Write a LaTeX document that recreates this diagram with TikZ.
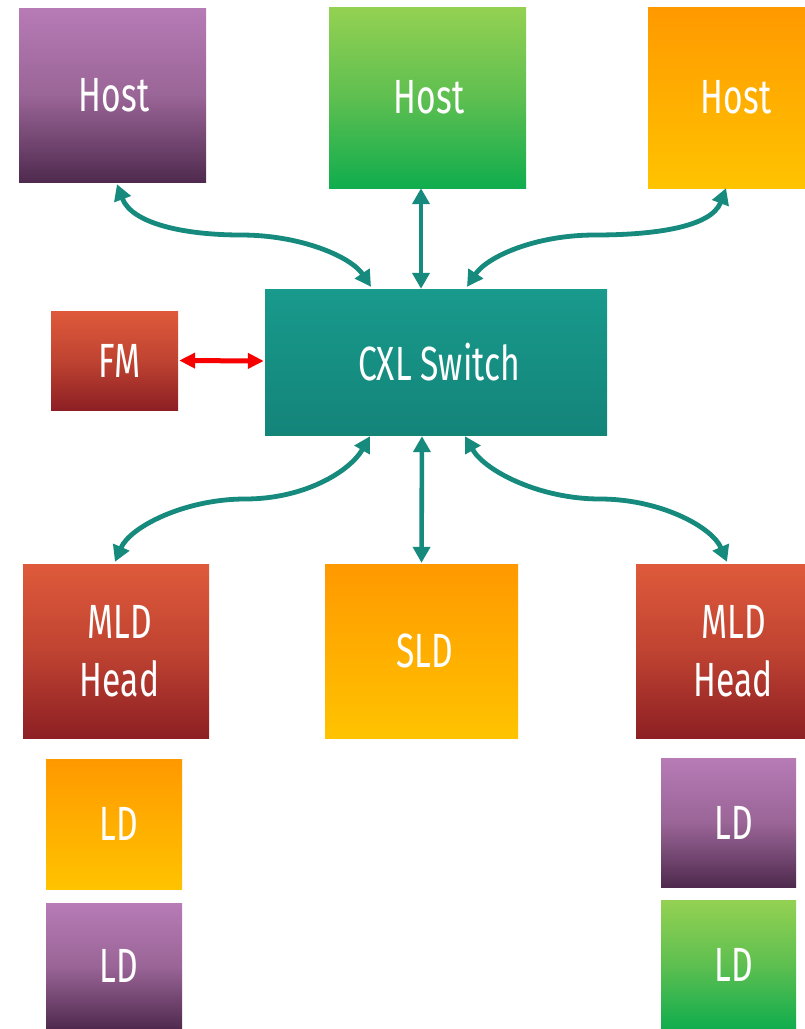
\documentclass[tikz,border=0pt]{standalone}
\usepackage{fontspec}
\setmainfont{Fira Sans}[FakeStretch=0.70]
\usetikzlibrary{arrows.meta,calc}

\definecolor{purpleTop}{HTML}{B77BB6}
\definecolor{purpleMid}{HTML}{9A6597}
\definecolor{purpleBot}{HTML}{4F2A4E}
\definecolor{greenTop}{HTML}{94D152}
\definecolor{greenMid}{HTML}{5EBF50}
\definecolor{greenBot}{HTML}{10AD4E}
\definecolor{orangeTop}{HTML}{FF9900}
\definecolor{orangeMid}{HTML}{FFAE00}
\definecolor{orangeBot}{HTML}{FFC300}
\definecolor{redTop}{HTML}{DF5A3B}
\definecolor{redMid}{HTML}{BF4331}
\definecolor{redBot}{HTML}{8D1F24}
\definecolor{tealTop}{HTML}{189A8C}
\definecolor{tealBot}{HTML}{148479}
\definecolor{linkteal}{HTML}{158A7D}
\definecolor{fmred}{HTML}{F80000}

% push a label to the right by half of the given space
\newcommand{\lblpush}[2]{\hspace*{#1pt}#2}

\begin{document}
\begin{tikzpicture}[x=1pt,y=-1pt,
  block/.style={rectangle, inner sep=0pt, text=white, align=center,
    font=\fontsize{48}{58}\selectfont},
  purpleblk/.style={block, top color=purpleTop, bottom color=purpleBot, middle color=purpleMid},
  greenblk/.style={block, top color=greenTop, bottom color=greenBot, middle color=greenMid},
  orangeblk/.style={block, top color=orangeTop, bottom color=orangeBot, middle color=orangeMid},
  redblk/.style={block, top color=redTop, bottom color=redBot, middle color=redMid},
  tealblk/.style={block, top color=tealTop, bottom color=tealBot},
  link/.style={draw=linkteal, line width=4.8pt,
    {Triangle[length=16pt,width=17pt]}-{Triangle[length=16pt,width=17pt]}},
  vlink/.style={link, line width=4.6pt},
  fmlink/.style={draw=fmred, line width=5pt,
    {Triangle[length=16pt,width=15pt]}-{Triangle[length=16pt,width=15pt]}}
]
\useasboundingbox[fill=white] (0,0) rectangle (805,1029);

% hosts
\node[purpleblk, minimum width=187, minimum height=174] (h1) at (112.5,95) {\lblpush{3}{Host}};
\node[greenblk,  minimum width=197, minimum height=181] (h2) at (427.5,97.5) {\lblpush{3}{Host}};
\node[orangeblk, minimum width=176, minimum height=181] (h3) at (736,97.5) {Host};

% fabric manager and switch
\node[redblk,  minimum width=127, minimum height=99]  (fm) at (114.5,360.5) {\lblpush{10}{FM}};
\node[tealblk, minimum width=342, minimum height=146] (sw) at (436,362) {\lblpush{6}{CXL Switch}};

% devices
\node[redblk,    minimum width=186, minimum height=174] (mld1) at (116,651) {\lblpush{7}{MLD}\\\lblpush{7}{Head}};
\node[orangeblk, minimum width=193, minimum height=174] (sld)  at (421.5,651) {\lblpush{7}{SLD}};
\node[redblk,    minimum width=194, minimum height=174] (mld2) at (733,651) {\lblpush{2}{MLD}\\Head};

% logical devices
\node[orangeblk, minimum width=136, minimum height=130] (ld1) at (114,824) {\lblpush{10}{LD}};
\node[purpleblk, minimum width=136, minimum height=126] (ld2) at (114,966) {\lblpush{10}{LD}};
\node[purpleblk, minimum width=135, minimum height=129] (ld3) at (728.5,822.5) {\lblpush{11}{LD}};
\node[greenblk,  minimum width=135, minimum height=129] (ld4) at (728.5,964.5) {\lblpush{11}{LD}};

% bends of the curved links
\coordinate (b1) at (241,235);
\coordinate (b2) at (595,235);
\coordinate (b3) at (245,499);
\coordinate (b4) at (600,499);

% host links
\draw[link] ([xshift=4.5pt,yshift=-2pt]h1.south)
  .. controls +(15,40) and +(-55,0) .. (b1)
  .. controls +(60,0) and +(-20,-30) .. ([xshift=-65pt,yshift=2pt]sw.north);
\draw[vlink] ([xshift=-6.5pt]h2.south) -- ([xshift=-15pt]sw.north);
\draw[link] ([xshift=-10pt]h3.south)
  .. controls +(-15,40) and +(55,0) .. (b2)
  .. controls +(-60,0) and +(20,-30) .. ([xshift=31pt,yshift=2pt]sw.north);

% fabric manager link
\draw[fmlink] ([xshift=1pt]fm.east) -- ([xshift=-1pt,yshift=1pt]sw.west);

% device links
\draw[link] ([xshift=-66pt,yshift=-1pt]sw.south)
  .. controls +(-20,35) and +(60,0) .. (b3)
  .. controls +(-60,0) and +(15,-35) .. ([xshift=-1pt,yshift=2pt]mld1.north);
\draw[vlink] ([xshift=-14pt,yshift=-1pt]sw.south) -- ([yshift=1pt]sld.north);
\draw[link] ([xshift=29pt,yshift=-1pt]sw.south)
  .. controls +(20,35) and +(-60,0) .. (b4)
  .. controls +(60,0) and +(-15,-35) .. ([xshift=-6pt,yshift=2pt]mld2.north);
\end{tikzpicture}
\end{document}
